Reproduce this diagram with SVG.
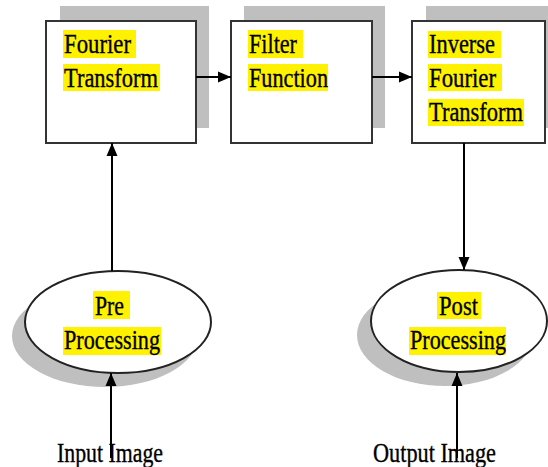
<svg xmlns="http://www.w3.org/2000/svg" width="548" height="467" viewBox="0 0 548 467">
  <defs>
    <marker id="arrow" markerUnits="userSpaceOnUse" markerWidth="14" markerHeight="12" refX="13" refY="6" orient="auto">
      <path d="M0,0.5 L13,6 L0,11.5 z" fill="#000"/>
    </marker>
    <style>
      .shadow { fill: #bfbfbf; }
      .box { fill: #fff; stroke: #333; stroke-width: 2; }
      .oval { fill: #fff; stroke: #222; stroke-width: 2; }
      .hl { fill: #fff200; }
      .conn { stroke: #000; stroke-width: 2; fill: none; marker-end: url(#arrow); }
      text { stroke: #000; stroke-width: 0.35px; }
    </style>
  </defs>
  <rect width="548" height="467" fill="#fff"/>

  <g font-family="'Liberation Serif', 'Times New Roman', serif" font-size="27" fill="#000">
  <g id="fourier-transform">
    <rect class="shadow" x="60" y="6" width="149" height="122"/>
    <rect class="box" x="46" y="21" width="150" height="122"/>
    <rect class="hl" x="63" y="30" width="73" height="28"/>
    <rect class="hl" x="63" y="64" width="97" height="27"/>
    <text x="64" y="53" textLength="67" lengthAdjust="spacingAndGlyphs">Fourier</text>
    <text x="64" y="87" textLength="94" lengthAdjust="spacingAndGlyphs">Transform</text>
  </g>

  <g id="filter-function">
    <rect class="shadow" x="244" y="6" width="141" height="122"/>
    <rect class="box" x="231" y="21" width="141" height="122"/>
    <rect class="hl" x="248" y="30" width="55" height="28"/>
    <rect class="hl" x="248" y="64" width="80" height="27"/>
    <text x="249" y="53" textLength="48" lengthAdjust="spacingAndGlyphs">Filter</text>
    <text x="249" y="87" textLength="79" lengthAdjust="spacingAndGlyphs">Function</text>
  </g>

  <g id="inverse-fourier-transform">
    <rect class="shadow" x="426" y="6" width="134" height="122"/>
    <rect class="box" x="412" y="21" width="133" height="122"/>
    <rect class="hl" x="428" y="31" width="73" height="27"/>
    <rect class="hl" x="428" y="64" width="74" height="27"/>
    <rect class="hl" x="428" y="99" width="96" height="27"/>
    <text x="429" y="53" textLength="66" lengthAdjust="spacingAndGlyphs">Inverse</text>
    <text x="429" y="87" textLength="67" lengthAdjust="spacingAndGlyphs">Fourier</text>
    <text x="429" y="121" textLength="94" lengthAdjust="spacingAndGlyphs">Transform</text>
  </g>

  <g id="pre-processing">
    <ellipse class="shadow" cx="105" cy="336" rx="93" ry="51"/>
    <ellipse class="oval" cx="118" cy="322" rx="93" ry="51"/>
    <rect class="hl" x="93" y="291" width="37" height="28"/>
    <rect class="hl" x="63" y="327" width="98" height="28"/>
    <text x="95" y="315" textLength="29" lengthAdjust="spacingAndGlyphs">Pre</text>
    <text x="64" y="349" textLength="96" lengthAdjust="spacingAndGlyphs">Processing</text>
  </g>

  <g id="post-processing">
    <ellipse class="shadow" cx="445" cy="335" rx="88" ry="51"/>
    <ellipse class="oval" cx="459" cy="321" rx="88" ry="51"/>
    <rect class="hl" x="437" y="292" width="44" height="27"/>
    <rect class="hl" x="409" y="327" width="97" height="28"/>
    <text x="439" y="315" textLength="39" lengthAdjust="spacingAndGlyphs">Post</text>
    <text x="410" y="349" textLength="96" lengthAdjust="spacingAndGlyphs">Processing</text>
  </g>

  <g id="input-image">
    <text x="57" y="462" textLength="106" lengthAdjust="spacingAndGlyphs">Input Image</text>
  </g>
  <g id="output-image">
    <text x="373" y="462" textLength="123" lengthAdjust="spacingAndGlyphs">Output Image</text>
  </g>
  </g>

  <g id="connectors">
    <line class="conn" x1="196" y1="77" x2="231" y2="77"/>
    <line class="conn" x1="372" y1="77" x2="412" y2="77"/>
    <line class="conn" x1="112" y1="271" x2="112" y2="143"/>
    <line class="conn" x1="111" y1="458" x2="111" y2="373"/>
    <line class="conn" x1="464" y1="143" x2="464" y2="270"/>
    <line class="conn" x1="457" y1="458" x2="457" y2="373"/>
  </g>
</svg>
